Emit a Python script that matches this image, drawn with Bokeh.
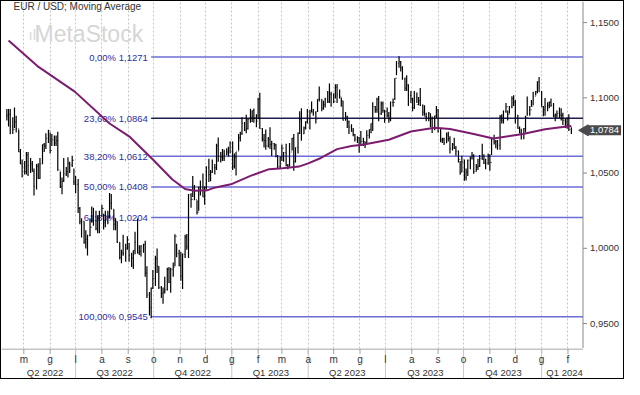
import math
import pandas as pd
from bokeh.plotting import figure
from bokeh.models import Range1d, FixedTicker, Grid, Label
from bokeh.layouts import column
from bokeh.embed import file_html
from bokeh.resources import INLINE
from bokeh.core.properties import value

FONT_NAME = "Liberation Sans"
FONT = value(FONT_NAME)
BASE = pd.Timestamp("2022-05-01")


def to_x(dates):
    return [float((pd.Timestamp(d) - BASE).days) for d in dates]


# ---------------- data ----------------
week_starts = pd.date_range("2022-04-11", "2024-01-29", freq="W-MON")
bar_dates = [w + pd.Timedelta(days=k) for w in week_starts for k in (0, 2, 4)]
bar_dates.append(pd.Timestamp("2024-02-05"))

first_open = 1.0890

highs = [
    1.0925, 1.0925, 1.0925, 1.0870, 1.0936, 1.0880, 1.0790, 1.0660, 1.0590,
    1.0580, 1.0640, 1.0640, 1.0600, 1.0580, 1.0530, 1.0560, 1.0565, 1.0600,
    1.0690, 1.0700, 1.0765, 1.0787, 1.0770, 1.0760, 1.0750, 1.0750, 1.0774,
    1.0510, 1.0470, 1.0600, 1.0540, 1.0605, 1.0575, 1.0615, 1.0530, 1.0480,
    1.0460, 1.0275, 1.0200, 1.0180, 1.0120, 1.0090, 1.0200, 1.0278, 1.0270,
    1.0250, 1.0220, 1.0250, 1.0290, 1.0230, 1.0250, 1.0250, 1.0368, 1.0360,
    1.0260, 1.0200, 1.0180, 1.0040, 0.9990, 1.0090, 1.0030, 1.0080, 1.0035,
    0.9970, 0.9985, 1.0110, 1.0198, 1.0020, 1.0020, 1.0030, 1.0050, 0.9880,
    0.9710, 0.9740, 0.9855, 0.9950, 0.9999, 0.9880, 0.9750, 0.9740, 0.9810,
    0.9870, 0.9875, 0.9870, 0.9905, 1.0093, 1.0030, 0.9990, 0.9975, 0.9965,
    1.0090, 1.0095, 1.0360, 1.0365, 1.0481, 1.0420, 1.0320, 1.0410, 1.0450,
    1.0497, 1.0410, 1.0545, 1.0595, 1.0520, 1.0590, 1.0560, 1.0695, 1.0736,
    1.0640, 1.0660, 1.0655, 1.0665, 1.0675, 1.0710, 1.0710, 1.0630, 1.0640,
    1.0760, 1.0775, 1.0870, 1.0840, 1.0887, 1.0860, 1.0927, 1.0915, 1.0929,
    1.0890, 1.1000, 1.1033, 1.0800, 1.0760, 1.0790, 1.0740, 1.0805, 1.0715,
    1.0700, 1.0695, 1.0620, 1.0610, 1.0690, 1.0640, 1.0695, 1.0560, 1.0700,
    1.0735, 1.0760, 1.0670, 1.0770, 1.0910, 1.0930, 1.0810, 1.0845, 1.0925,
    1.0920, 1.0975, 1.0925, 1.0910, 1.0990, 1.1075, 1.0990, 1.0980, 1.1000,
    1.1045, 1.1095, 1.1040, 1.1030, 1.1090, 1.1092, 1.1055, 1.1000, 1.0980,
    1.0905, 1.0880, 1.0850, 1.0825, 1.0800, 1.0760, 1.0745, 1.0740, 1.0780,
    1.0735, 1.0710, 1.0785, 1.0790, 1.0830, 1.0970, 1.0945, 1.1000, 1.1012,
    1.0975, 1.0975, 1.0920, 1.0935, 1.0905, 1.0975, 1.0995, 1.1130, 1.1245,
    1.1276, 1.1245, 1.1210, 1.1135, 1.1150, 1.1090, 1.1045, 1.1000, 1.1045,
    1.1035, 1.1005, 1.1065, 1.0955, 1.0950, 1.0900, 1.0905, 1.0895, 1.0875,
    1.0880, 1.0945, 1.0925, 1.0800, 1.0735, 1.0735, 1.0770, 1.0775, 1.0745,
    1.0700, 1.0735, 1.0680, 1.0650, 1.0580, 1.0615, 1.0590, 1.0530, 1.0590,
    1.0610, 1.0640, 1.0625, 1.0560, 1.0595, 1.0620, 1.0695, 1.0625, 1.0595,
    1.0630, 1.0625, 1.0728, 1.0755, 1.0720, 1.0720, 1.0885, 1.0890, 1.0915,
    1.0965, 1.0915, 1.0945, 1.1010, 1.1017, 1.0985, 1.0885, 1.0810, 1.0795,
    1.0800, 1.0880, 1.1008, 1.0945, 1.0985, 1.1040, 1.1045, 1.1110, 1.1139,
    1.1045, 1.0945, 1.0998, 1.0970, 1.0975, 1.0995, 1.0965, 1.0895, 1.0915,
    1.0935, 1.0930, 1.0900, 1.0860, 1.0870, 1.0890,
    1.0805,
]

lows = [
    1.0850, 1.0810, 1.0757, 1.0760, 1.0800, 1.0770, 1.0640, 1.0560, 1.0471,
    1.0490, 1.0490, 1.0480, 1.0500, 1.0510, 1.0350, 1.0390, 1.0460, 1.0460,
    1.0560, 1.0640, 1.0660, 1.0700, 1.0630, 1.0680, 1.0680, 1.0680, 1.0515,
    1.0400, 1.0359, 1.0440, 1.0480, 1.0470, 1.0500, 1.0540, 1.0420, 1.0365,
    1.0235, 1.0160, 1.0072, 1.0030, 0.9998, 0.9952, 1.0080, 1.0170, 1.0150,
    1.0120, 1.0100, 1.0100, 1.0210, 1.0125, 1.0140, 1.0160, 1.0200, 1.0260,
    1.0120, 1.0120, 1.0035, 0.9925, 0.9900, 0.9950, 0.9910, 0.9990, 0.9910,
    0.9875, 0.9863, 0.9960, 0.9966, 0.9956, 0.9945, 0.9970, 0.9810, 0.9670,
    0.9553, 0.9535, 0.9730, 0.9750, 0.9835, 0.9730, 0.9670, 0.9632, 0.9700,
    0.9720, 0.9770, 0.9705, 0.9810, 0.9880, 0.9940, 0.9880, 0.9785, 0.9730,
    0.9935, 0.9990, 0.9935, 1.0270, 1.0340, 1.0320, 1.0225, 1.0250, 1.0350,
    1.0340, 1.0290, 1.0390, 1.0440, 1.0445, 1.0500, 1.0490, 1.0520, 1.0575,
    1.0570, 1.0580, 1.0580, 1.0620, 1.0610, 1.0630, 1.0520, 1.0530, 1.0483,
    1.0650, 1.0710, 1.0755, 1.0780, 1.0765, 1.0790, 1.0835, 1.0840, 1.0835,
    1.0805, 1.0860, 1.0795, 1.0710, 1.0669, 1.0655, 1.0670, 1.0660, 1.0613,
    1.0655, 1.0605, 1.0533, 1.0533, 1.0580, 1.0575, 1.0545, 1.0525, 1.0545,
    1.0650, 1.0516, 1.0570, 1.0630, 1.0760, 1.0715, 1.0760, 1.0790, 1.0830,
    1.0790, 1.0905, 1.0880, 1.0830, 1.0905, 1.0975, 1.0910, 1.0920, 1.0935,
    1.0965, 1.0965, 1.0940, 1.0965, 1.0995, 1.0965, 1.0995, 1.0940, 1.0850,
    1.0850, 1.0800, 1.0760, 1.0775, 1.0745, 1.0710, 1.0700, 1.0635, 1.0680,
    1.0680, 1.0667, 1.0700, 1.0730, 1.0765, 1.0780, 1.0900, 1.0900, 1.0845,
    1.0885, 1.0900, 1.0835, 1.0870, 1.0835, 1.0845, 1.0940, 1.0985, 1.1150,
    1.1200, 1.1175, 1.1120, 1.1045, 1.1045, 1.0945, 1.0965, 1.0910, 1.0925,
    1.0965, 1.0950, 1.0945, 1.0880, 1.0880, 1.0845, 1.0845, 1.0805, 1.0766,
    1.0785, 1.0865, 1.0770, 1.0705, 1.0700, 1.0686, 1.0700, 1.0710, 1.0630,
    1.0650, 1.0660, 1.0615, 1.0570, 1.0488, 1.0505, 1.0448, 1.0450, 1.0480,
    1.0525, 1.0590, 1.0495, 1.0510, 1.0520, 1.0540, 1.0590, 1.0560, 1.0525,
    1.0555, 1.0515, 1.0620, 1.0690, 1.0665, 1.0655, 1.0655, 1.0830, 1.0830,
    1.0900, 1.0850, 1.0895, 1.0930, 1.0945, 1.0830, 1.0795, 1.0765, 1.0723,
    1.0725, 1.0770, 1.0880, 1.0880, 1.0940, 1.0950, 1.1015, 1.1030, 1.1040,
    1.0940, 1.0877, 1.0880, 1.0910, 1.0930, 1.0940, 1.0870, 1.0845, 1.0865,
    1.0865, 1.0850, 1.0820, 1.0800, 1.0795, 1.0780,
    1.0760,
]

closes = [
    1.0880, 1.0890, 1.0810, 1.0790, 1.0840, 1.0795, 1.0640, 1.0560, 1.0545,
    1.0510, 1.0620, 1.0550, 1.0560, 1.0510, 1.0410, 1.0545, 1.0465, 1.0560,
    1.0690, 1.0680, 1.0730, 1.0780, 1.0650, 1.0720, 1.0700, 1.0715, 1.0520,
    1.0410, 1.0445, 1.0495, 1.0510, 1.0565, 1.0555, 1.0585, 1.0440, 1.0425,
    1.0265, 1.0180, 1.0180, 1.0040, 1.0060, 1.0085, 1.0140, 1.0180, 1.0210,
    1.0130, 1.0200, 1.0220, 1.0265, 1.0170, 1.0180, 1.0210, 1.0300, 1.0260,
    1.0160, 1.0180, 1.0040, 0.9940, 0.9970, 0.9965, 1.0000, 1.0055, 0.9955,
    0.9935, 0.9985, 1.0040, 0.9970, 0.9980, 1.0015, 1.0025, 0.9835, 0.9690,
    0.9605, 0.9735, 0.9800, 0.9930, 0.9880, 0.9740, 0.9700, 0.9710, 0.9725,
    0.9860, 0.9775, 0.9860, 0.9875, 1.0080, 0.9965, 0.9885, 0.9815, 0.9960,
    1.0075, 1.0010, 1.0355, 1.0325, 1.0395, 1.0325, 1.0240, 1.0395, 1.0400,
    1.0340, 1.0405, 1.0535, 1.0490, 1.0505, 1.0535, 1.0535, 1.0680, 1.0585,
    1.0605, 1.0600, 1.0620, 1.0640, 1.0615, 1.0705, 1.0545, 1.0605, 1.0645,
    1.0735, 1.0760, 1.0830, 1.0785, 1.0795, 1.0855, 1.0870, 1.0915, 1.0870,
    1.0845, 1.0990, 1.0795, 1.0725, 1.0715, 1.0680, 1.0725, 1.0690, 1.0695,
    1.0685, 1.0610, 1.0545, 1.0605, 1.0665, 1.0635, 1.0550, 1.0545, 1.0640,
    1.0730, 1.0575, 1.0670, 1.0765, 1.0855, 1.0760, 1.0800, 1.0840, 1.0840,
    1.0900, 1.0905, 1.0900, 1.0860, 1.0990, 1.0990, 1.0930, 1.0955, 1.0990,
    1.0975, 1.1025, 1.1020, 1.0975, 1.1070, 1.1020, 1.1005, 1.0980, 1.0850,
    1.0875, 1.0840, 1.0805, 1.0780, 1.0755, 1.0725, 1.0735, 1.0690, 1.0710,
    1.0710, 1.0700, 1.0750, 1.0790, 1.0830, 1.0940, 1.0920, 1.0990, 1.0895,
    1.0960, 1.0915, 1.0910, 1.0880, 1.0855, 1.0970, 1.0970, 1.1130, 1.1230,
    1.1240, 1.1200, 1.1125, 1.1065, 1.1085, 1.1015, 1.0995, 1.0935, 1.1005,
    1.0955, 1.0980, 1.0950, 1.0905, 1.0875, 1.0870, 1.0895, 1.0860, 1.0795,
    1.0880, 1.0920, 1.0775, 1.0720, 1.0725, 1.0700, 1.0755, 1.0730, 1.0660,
    1.0690, 1.0665, 1.0645, 1.0590, 1.0505, 1.0575, 1.0470, 1.0505, 1.0585,
    1.0600, 1.0615, 1.0510, 1.0540, 1.0545, 1.0595, 1.0590, 1.0565, 1.0565,
    1.0615, 1.0570, 1.0725, 1.0705, 1.0710, 1.0685, 1.0875, 1.0850, 1.0910,
    1.0940, 1.0890, 1.0940, 1.0995, 1.0970, 1.0885, 1.0795, 1.0765, 1.0760,
    1.0795, 1.0870, 1.0895, 1.0920, 1.0945, 1.1010, 1.1040, 1.1105, 1.1040,
    1.0940, 1.0920, 1.0940, 1.0950, 1.0970, 1.0950, 1.0880, 1.0885, 1.0895,
    1.0885, 1.0885, 1.0850, 1.0840, 1.0820, 1.0790,
    1.0784,
]

# moving average
ma_dates = [
    "2022-04-13", "2022-05-17", "2022-06-30", "2022-08-10", "2022-09-02",
    "2022-09-30", "2022-10-23", "2022-11-07", "2022-11-18", "2022-12-03",
    "2022-12-10", "2022-12-31", "2023-01-23", "2023-02-14", "2023-03-02",
    "2023-03-21", "2023-04-01", "2023-04-16", "2023-05-05", "2023-05-22",
    "2023-06-04", "2023-07-05", "2023-07-31", "2023-08-28", "2023-09-15",
    "2023-10-13", "2023-11-05", "2023-12-10", "2024-01-05", "2024-01-28",
    "2024-02-05",
]
ma_values = [
    1.1381, 1.1211, 1.1041, 1.0829, 1.0744,
    1.0590, 1.0457, 1.0394, 1.0383, 1.0385,
    1.0400, 1.0425, 1.0481, 1.0526, 1.0532,
    1.0543, 1.0564, 1.0600, 1.0659, 1.0680,
    1.0688, 1.0721, 1.0776, 1.0801, 1.0793,
    1.0759, 1.0729, 1.0759, 1.0791, 1.0808,
    1.0812,
]

# Fibonacci retracement (low 2022-09-28 -> high 2023-07-18)
fib_start = "2022-09-28"
fib_levels = [1.1271, 1.0864, 1.0612, 1.0408, 1.0204, 0.9545]
fib_pcts = ["0,00%", "23,60%", "38,20%", "50,00%", "61,80%", "100,00%"]

last_value = 1.0784

y_ticks = [0.95, 1.00, 1.05, 1.10, 1.15]

month_labels = ["m", "g", "l", "a", "s", "o", "n", "d", "g", "f", "m",
                "a", "m", "g", "l", "a", "s", "o", "n", "d", "g", "f"]
month_starts = pd.date_range("2022-05-01", "2024-02-01", freq="MS")
quarter_starts = ["2022-07-01", "2022-10-01", "2023-01-01", "2023-04-01",
                  "2023-07-01", "2023-10-01", "2024-01-01"]
quarter_labels = ["Q2 2022", "Q3 2022", "Q4 2022", "Q1 2023",
                  "Q2 2023", "Q3 2023", "Q4 2023", "Q1 2024"]
quarter_label_dates = ["2022-05-26", "2022-08-16", "2022-11-16", "2023-02-16",
                       "2023-05-17", "2023-08-17", "2023-11-17", "2024-01-28"]


def fmt(v):
    return ("%.4f" % v).replace(".", ",")


# ---------------- layout geometry ----------------
n = min(len(bar_dates), len(highs), len(lows), len(closes))
bx = to_x(bar_dates[:n])
hi = highs[:n]
lo = lows[:n]
cl = closes[:n]
op = [first_open] + cl[:-1]

month_x = to_x(month_starts)

PLOT_W = 582          # width of the price area in px
AXIS_W = 40           # width of the right value-axis area in px
TOP_H = 347
X0, X1 = -26.3, 659.3  # visible date span of the price area (days from BASE)
DPP = (X1 - X0) / PLOT_W  # days per pixel
X_END = X1 + AXIS_W * DPP
Y0, Y1 = 0.9334, 1.1640
YPP = (Y1 - Y0) / TOP_H

top = figure(frame_width=PLOT_W + AXIS_W, frame_height=TOP_H,
             x_range=Range1d(X0, X_END), y_range=Range1d(Y0, Y1),
             x_axis_location=None, y_axis_location=None,
             toolbar_location=None, output_backend="svg",
             min_border=0, outline_line_color=None,
             background_fill_color="white", border_fill_color="white")
top.center = []
top.add_layout(Grid(dimension=0, ticker=FixedTicker(ticks=month_x),
                    grid_line_color="#c6c6c6", grid_line_dash="2 2",
                    grid_line_width=1))

# right value axis (drawn inside the extended frame)
AX = X1 - 0.5 * DPP
top.segment(x0=[AX], y0=[Y0], x1=[AX], y1=[Y1], line_color="#8a8a8a",
            line_width=1)
top.segment(x0=[AX] * len(y_ticks), y0=y_ticks,
            x1=[AX + 4 * DPP] * len(y_ticks), y1=y_ticks,
            line_color="#8a8a8a", line_width=1)
top.text(x=[AX + 7 * DPP] * len(y_ticks), y=y_ticks,
         text=[fmt(v) for v in y_ticks], text_align="left",
         text_baseline="middle", text_font=FONT, text_font_size="9.5px",
         text_color="#333333")

# watermark and title
top.add_layout(Label(x=X0 + 27 * DPP, y=1.1424, text="ıll",
                     text_font=FONT_NAME, text_font_size="15px",
                     text_color="#d9d9d9", text_baseline="middle"))
top.add_layout(Label(x=X0 + 33 * DPP, y=1.1424, text="MetaStock",
                     text_font=FONT_NAME, text_font_size="23px",
                     text_color="#d6d6d6", text_baseline="middle"))
top.add_layout(Label(x=X0 + 12 * DPP, y=1.1608,
                     text="EUR / USD; Moving Average",
                     text_font=FONT_NAME, text_font_size="10px",
                     text_color="#333333", text_baseline="middle"))

# fibonacci lines + labels
fx = to_x([fib_start])[0]
fib_colors = ["#6d6dd6" if p != "23,60%" else "#1e1e50" for p in fib_pcts]
top.segment(x0=[fx] * len(fib_levels), y0=fib_levels,
            x1=[AX] * len(fib_levels), y1=fib_levels,
            line_color=fib_colors, line_width=1.5)
fib_text = ["%s %s" % (p, fmt(v)) for p, v in zip(fib_pcts, fib_levels)]
top.text(x=[fx - 4] * len(fib_levels), y=fib_levels, text=fib_text,
         text_align="right", text_baseline="middle",
         text_font=FONT, text_font_size="9.5px", text_color="#2e2e9c")

# OHLC bars
top.segment(x0=bx, y0=lo, x1=bx, y1=hi, line_color="#000000", line_width=1.2)
top.segment(x0=[v - 0.7 for v in bx], y0=op, x1=bx, y1=op,
            line_color="#000000", line_width=1)
top.segment(x0=bx, y0=cl, x1=[v + 0.7 for v in bx], y1=cl,
            line_color="#000000", line_width=1)

# moving average
top.line(to_x(ma_dates), ma_values, line_color="#7b1c6e", line_width=2)

# last value marker on the value axis
top.scatter(x=[AX + 2 * DPP], y=[last_value], marker="triangle",
            angle=math.pi / 2, size=11, fill_color="#4a4a4a",
            line_color="#4a4a4a")
top.add_layout(Label(x=AX + 5 * DPP, y=last_value, text=fmt(last_value),
                     text_font=FONT_NAME, text_font_size="9.5px",
                     text_color="white", text_baseline="middle",
                     background_fill_color="#4a4a4a", padding=2))

# bottom time axis
bot = figure(frame_width=PLOT_W + AXIS_W, frame_height=30,
             x_range=top.x_range, y_range=Range1d(0, 30),
             x_axis_location=None, y_axis_location=None,
             toolbar_location=None, output_backend="svg",
             min_border=0, outline_line_color=None,
             background_fill_color="white", border_fill_color="white")
bot.center = []
bot.segment(x0=[X0], y0=[29.5], x1=[AX], y1=[29.5],
            line_color="#8a8a8a", line_width=1)
bot.segment(x0=month_x, y0=[24.5] * len(month_x), x1=month_x,
            y1=[30] * len(month_x), line_color="#a0a0a0", line_width=1)
qx = to_x(quarter_starts)
bot.segment(x0=qx, y0=[0] * len(qx), x1=qx, y1=[30] * len(qx),
            line_color="#c8c8c8", line_width=1)
bot.text(x=month_x, y=[19.5] * len(month_x), text=month_labels[:len(month_x)],
         text_align="center", text_baseline="middle",
         text_font=FONT, text_font_size="10px", text_color="#333333")
bot.text(x=to_x(quarter_label_dates), y=[6] * len(quarter_labels),
         text=quarter_labels, text_align="center", text_baseline="middle",
         text_font=FONT, text_font_size="9.5px", text_color="#333333")

layout = column(top, bot, styles={"border": "1px solid #000000"})

open("out.html", "w").write(file_html(layout, INLINE))
